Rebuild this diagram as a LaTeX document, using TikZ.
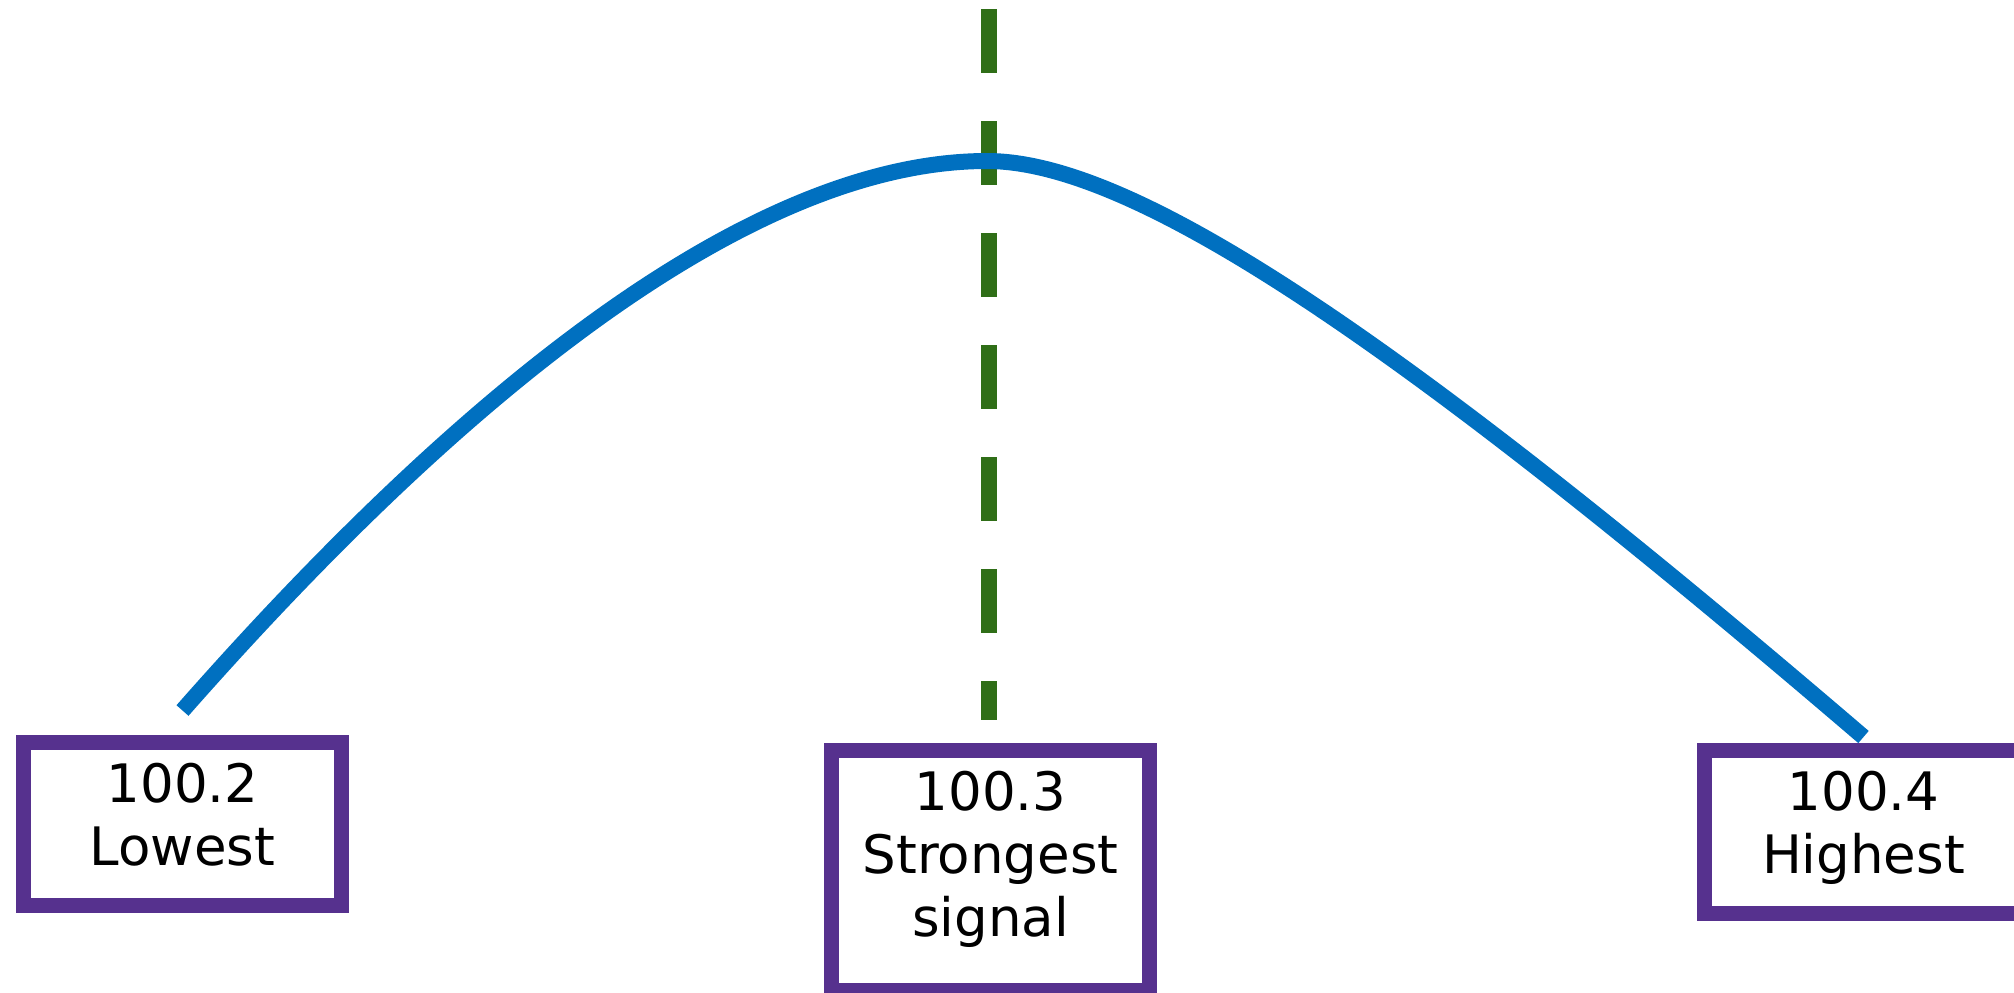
\documentclass[tikz,border=0pt]{standalone}
\usepackage{fontspec}
\setmainfont{DejaVu Sans}
\definecolor{boxpurple}{HTML}{56318E}
\definecolor{curveblue}{HTML}{0070C0}
\definecolor{peakgreen}{HTML}{2F6E17}

\begin{document}
\begin{tikzpicture}[x=0.5pt, y=-0.5pt,
		freqbox/.style={rectangle, draw=boxpurple, line width=7.5pt, anchor=north,
			minimum width=159pt, inner sep=0pt, outer sep=0pt, align=center,
			font=\fontsize{26.5pt}{31.5pt}\selectfont},
		signalcurve/.style={draw=curveblue, line width=8pt},
		peakline/.style={draw=peakgreen, line width=8pt, dash pattern=on 32pt off 24pt}]
		\useasboundingbox (0,0) rectangle (2014,992);

		\node(low)[freqbox, text height=61.25pt, text depth=20.25pt] at (182.5,742.5){100.2\\Lowest};
		\node(mid)[freqbox, text height=92.75pt, text depth=27pt] at (990.5,750.5){100.3\\Strongest\\signal};
		\node(high)[freqbox, text height=61.25pt, text depth=20.25pt] at (1863.5,750.5){100.4\\Highest};

		\coordinate(peak) at (987,161);
		\coordinate(peaktop) at (988.5,9);
		\coordinate(peakend) at (988.5,720);

		\draw[peakline] (peaktop) -- (peakend);
		\draw[signalcurve] ([yshift=16pt]low.north) .. controls (381,485) and (707,161) .. (peak)
			.. controls (1137,161) and (1408,347) .. ([yshift=6.75pt]high.north);
	\end{tikzpicture}
\end{document}
